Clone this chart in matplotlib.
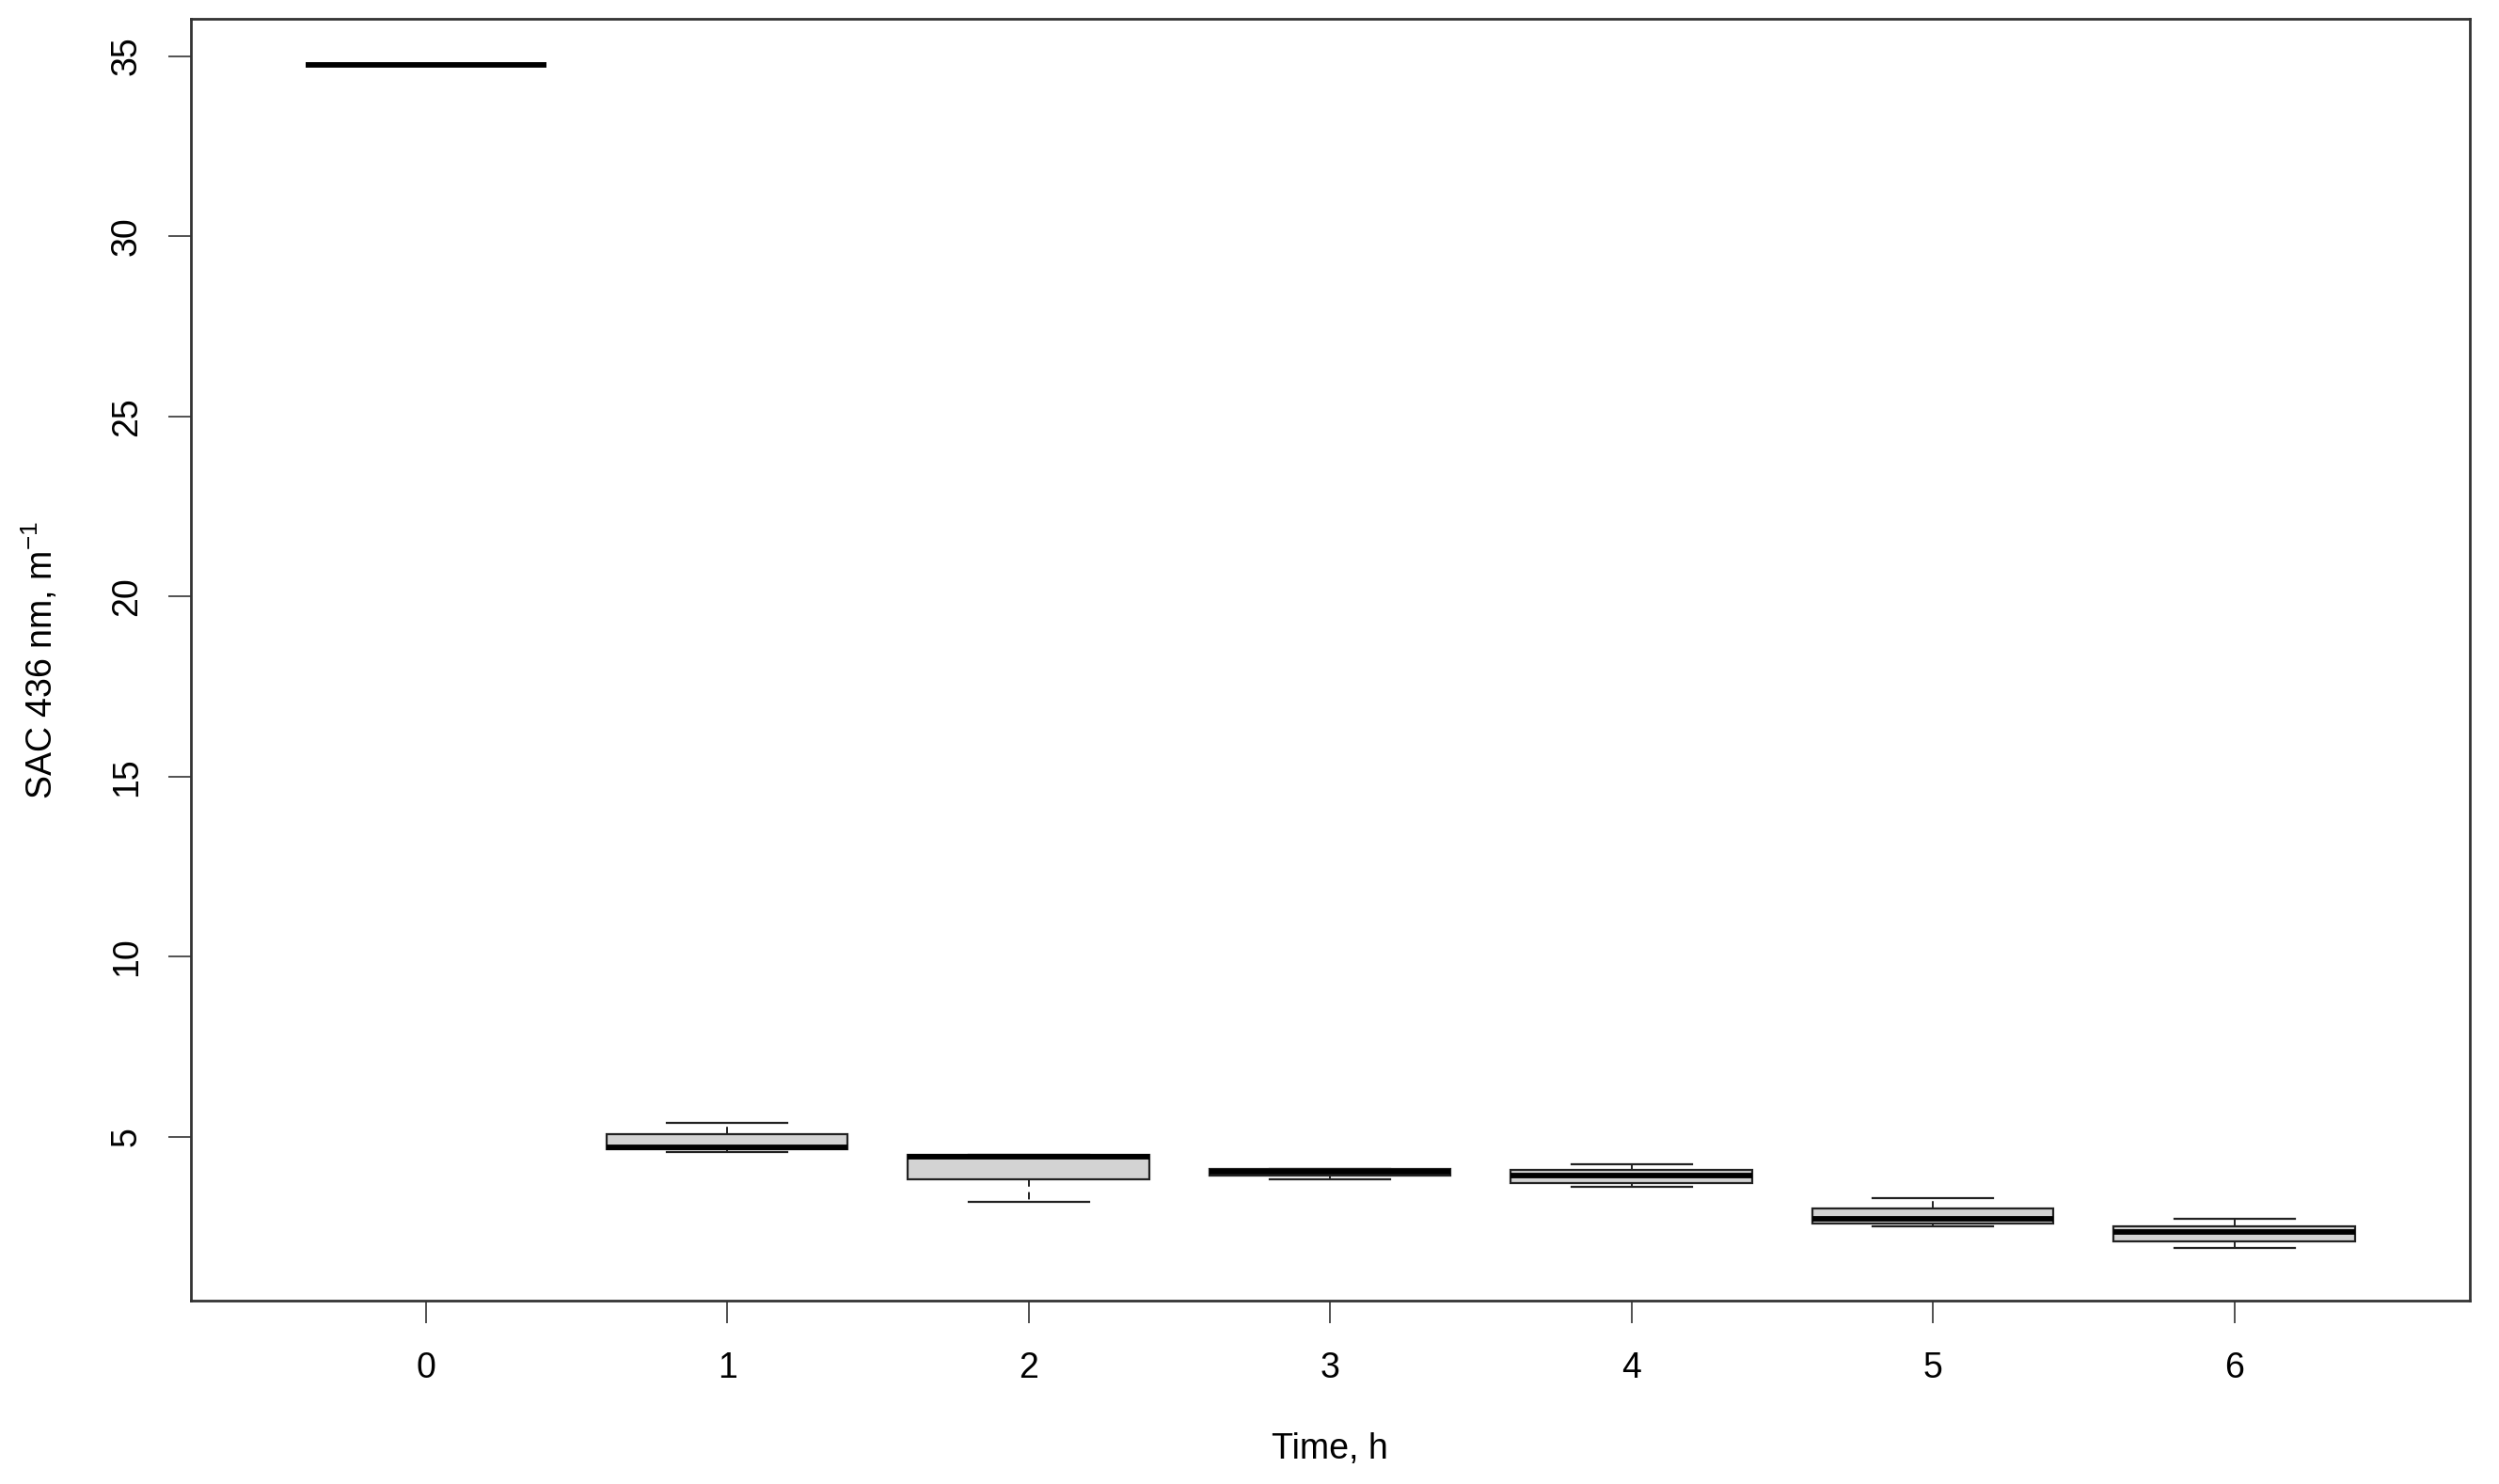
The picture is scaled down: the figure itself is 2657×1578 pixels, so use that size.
import matplotlib
matplotlib.use("Agg")
import matplotlib.pyplot as plt

plt.rcParams['font.family'] = ['Liberation Sans', 'DejaVu Sans']
plt.rcParams['mathtext.fontset'] = 'custom'
plt.rcParams['mathtext.rm'] = 'Liberation Sans'

# Data: box statistics per time point
times = [0, 1, 2, 3, 4, 5, 6]
whislo = [34.74, 4.59, 3.21, 3.82, 3.61, 2.51, 1.91]
q1 = [34.74, 4.66, 3.82, 3.92, 3.73, 2.60, 2.10]
med = [34.74, 4.71, 4.46, 4.04, 3.92, 2.74, 2.35]
q3 = [34.74, 5.08, 4.50, 4.11, 4.08, 3.01, 2.52]
whishi = [34.74, 5.39, 4.50, 4.11, 4.23, 3.29, 2.73]
yticks = [5, 10, 15, 20, 25, 30, 35]

stats = []
for t, lo, a, m, b, hi in zip(times, whislo, q1, med, q3, whishi):
    stats.append(dict(label=str(t), whislo=lo, q1=a, med=m, q3=b, whishi=hi, fliers=[]))

fig = plt.figure(figsize=(26.57, 15.78), dpi=100)
ax = fig.add_axes([0.0763, 0.1234, 0.9882 - 0.0763, 0.9873 - 0.1234])

ax.bxp(stats, positions=times, widths=0.8, patch_artist=True, showfliers=False,
       boxprops=dict(facecolor='#D3D3D3', edgecolor='#222222', linewidth=1.6),
       medianprops=dict(color='black', linewidth=4.2, solid_capstyle='butt'),
       whiskerprops=dict(color='#222222', linewidth=1.4, linestyle=(0, (4, 3))),
       capprops=dict(color='#222222', linewidth=1.6),
       capwidths=0.4)

ax.set_xlim(-0.78, 6.78)
ax.set_ylim(0.45, 36.03)
ax.set_xticks(times)
ax.set_xticklabels([str(t) for t in times])
ax.set_yticks(yticks)
ax.set_yticklabels([str(v) for v in yticks], rotation=90, va='center')

ax.tick_params(axis='both', which='major', length=17, width=1.1, color='#222222',
               labelsize=27, labelcolor='black')
ax.tick_params(axis='x', pad=22)
ax.tick_params(axis='y', pad=19)

for s in ax.spines.values():
    s.set_linewidth(2.0)
    s.set_color('#333333')

ax.set_xlabel('Time, h', fontsize=27, labelpad=36)
ax.set_ylabel(r'SAC 436 nm, m$^{\mathregular{-1}}$', fontsize=27, labelpad=38)

fig.savefig('out.png', dpi=100)
